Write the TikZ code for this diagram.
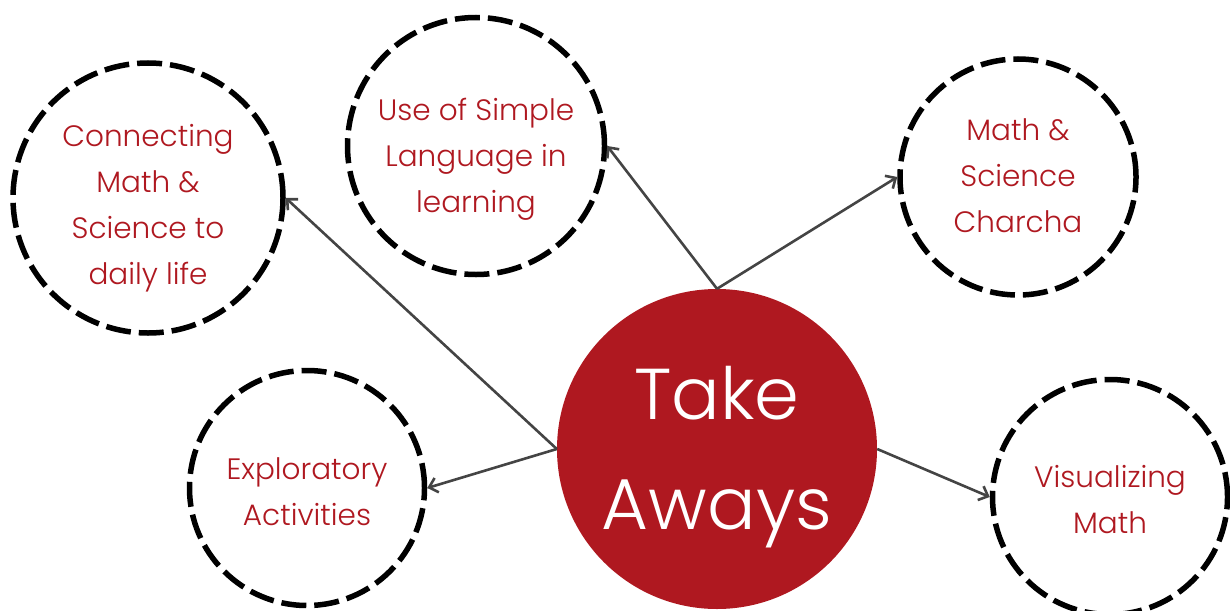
\documentclass[tikz,border=0pt]{standalone}
\usepackage{fontspec}
\setmainfont{Poppins Light}
\usetikzlibrary{arrows.meta}
\definecolor{tred}{HTML}{AF1820}
\definecolor{agray}{HTML}{444444}
\tikzset{
  bubble/.style={circle, draw=black, line width=5.5pt, dash pattern=on 25pt off 8pt, fill=white, inner sep=0pt},
  bubtext/.style={text=tred, align=center, font=\fontsize{29.5}{46}\selectfont, inner sep=0pt},
  hub/.style={circle, fill=tred, draw=none, inner sep=0pt, minimum size=320pt},
  hubtext/.style={text=white, align=center, font=\fontsize{72}{110}\selectfont, inner sep=0pt},
  link/.style={draw=agray, line width=2.6pt, -{Straight Barb[length=8pt,width=15pt,line width=2.6pt]}},
}
\begin{document}
\begin{tikzpicture}[x=1pt,y=-1pt]
\useasboundingbox (0,0) rectangle (1230,610);
\node[bubble, minimum size=270pt] (c1) at (148,198) {};
\node[bubble, minimum size=257pt] (c2) at (476,146) {};
\node[bubble, minimum size=236pt] (c3) at (1018,177) {};
\node[bubble, minimum size=235pt] (c4) at (307,488) {};
\node[bubble, minimum size=235pt] (c5) at (1110,497) {};
\node[bubtext] (t1) at (148,208) {Connecting\\Math \&\\Science to\\daily life};
\node[bubtext] (t2) at (476,159) {Use of Simple\\Language in\\learning};
\node[bubtext] (t3) at (1018,176) {Math \&\\Science\\Charcha};
\node[bubtext] (t4) at (307,492) {Exploratory\\Activities};
\node[bubtext] (t5) at (1110,500) {Visualizing\\Math};
\node[hub] (hub) at (717,449) {};
\node[hubtext] (ht) at (717,457) {Take\\Aways};
\draw[link] (hub.west) -- (c1.east);
\draw[link] (hub.west) -- (c4.east);
\draw[link] (hub.north) -- (c2.east);
\draw[link] (hub.north) -- (c3.west);
\draw[link] (hub.east) -- (c5.west);
\end{tikzpicture}
\end{document}
